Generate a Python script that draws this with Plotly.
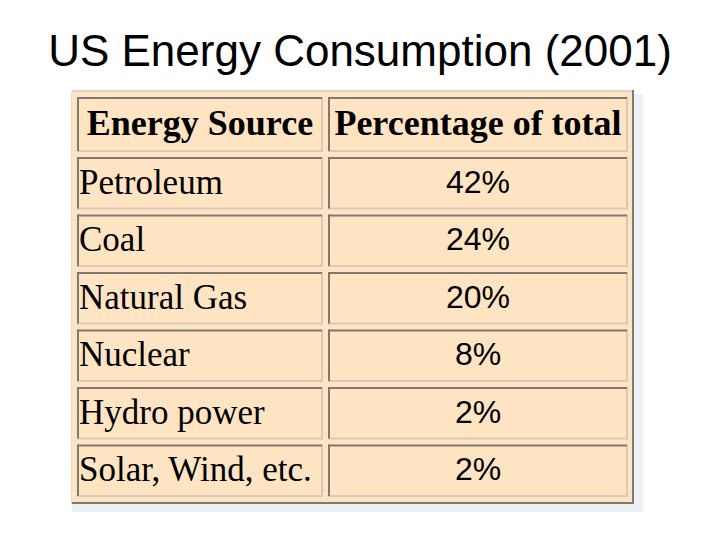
import plotly.graph_objects as go

# ---- data ----
TITLE = "US Energy Consumption (2001)"
HEADERS = ["Energy Source", "Percentage of total"]
SOURCES = ["Petroleum", "Coal", "Natural Gas", "Nuclear", "Hydro power", "Solar, Wind, etc."]
PERCENTAGES = [42, 24, 20, 8, 2, 2]

# ---- layout / style constants (pixel units on hidden axes) ----
TABLE_W, TABLE_H = 562, 412
PAD, SPACING = 5, 5
COL_W = [246, 300]
HEADER_H, ROW_H = 55, 52.5

BISQUE = "#FFE4C4"
DARK = "#7F7871"
LIGHT = "#D6C9BA"
OUTER_LIGHT = "#D9D4CF"
SHADOW = "#ECEFF3"

PAGE_OFFSET = 8  # default body margin of the html page
X_RANGE = [-2, 572]
Y_RANGE = [420, -4]
ML, MT = 70 - PAGE_OFFSET, 88 - PAGE_OFFSET
PW = X_RANGE[1] - X_RANGE[0]
PH = Y_RANGE[0] - Y_RANGE[1]


def col_x(j):
    x0 = PAD + sum(COL_W[:j]) + j * SPACING
    return x0, x0 + COL_W[j]


def row_y(r):
    if r == 0:
        return PAD, PAD + HEADER_H
    y0 = PAD + HEADER_H + SPACING + (r - 1) * (ROW_H + SPACING)
    return y0, y0 + ROW_H


shapes = []


def line(x0, y0, x1, y1, color, w=2):
    shapes.append(dict(type="line", xref="x", yref="y", x0=x0, y0=y0, x1=x1, y1=y1,
                       line=dict(color=color, width=w), layer="above"))


# shadow around table
shapes.append(dict(type="rect", xref="x", yref="y", x0=TABLE_W, y0=2, x1=TABLE_W + 9, y1=TABLE_H + 8,
                   fillcolor=SHADOW, line=dict(width=0), layer="below"))
shapes.append(dict(type="rect", xref="x", yref="y", x0=0, y0=TABLE_H, x1=TABLE_W + 9, y1=TABLE_H + 8,
                   fillcolor=SHADOW, line=dict(width=0), layer="below"))
# table background
shapes.append(dict(type="rect", xref="x", yref="y", x0=0, y0=0, x1=TABLE_W, y1=TABLE_H,
                   fillcolor=BISQUE, line=dict(width=0), layer="below"))
# outer outset border
line(0, -1, TABLE_W, -1, OUTER_LIGHT)
line(-0.5, 0, -0.5, TABLE_H, "#F3DCC4", 1)
line(TABLE_W - 1, -2, TABLE_W - 1, TABLE_H, DARK)
line(0, TABLE_H - 1, TABLE_W, TABLE_H - 1, DARK)

n_rows = len(SOURCES) + 1
for r in range(n_rows):
    y0, y1 = row_y(r)
    for j in range(len(COL_W)):
        x0, x1 = col_x(j)
        # inset bevel: light bottom/right, dark top/left
        line(x0, y1 - 1, x1, y1 - 1, LIGHT)
        line(x1 - 1, y0, x1 - 1, y1, LIGHT)
        line(x0, y0 + 1, x1 - 1, y0 + 1, DARK)
        line(x0 + 1, y0, x0 + 1, y1 - 1, DARK)

fig = go.Figure()

# header text
hx = [sum(col_x(j)) / 2 for j in range(len(HEADERS))]
hy = [sum(row_y(0)) / 2 + 1] * len(HEADERS)
fig.add_trace(go.Scatter(
    x=hx, y=hy, mode="text", text=HEADERS, textposition="middle center",
    textfont=dict(family="Liberation Serif", size=36, color="#000000", weight="bold"),
    hoverinfo="skip", showlegend=False))

# source names (left aligned)
name_x = [col_x(0)[0] + 2] * len(SOURCES)
row_centers = [sum(row_y(r + 1)) / 2 + 1.5 for r in range(len(SOURCES))]
fig.add_trace(go.Scatter(
    x=name_x, y=row_centers, mode="text", text=SOURCES, textposition="middle right",
    textfont=dict(family="Liberation Serif", size=35, color="#000000"),
    hoverinfo="skip", showlegend=False))

# percentages (centered)
pct_x = [sum(col_x(1)) / 2] * len(PERCENTAGES)
fig.add_trace(go.Scatter(
    x=pct_x, y=row_centers, mode="text", text=[f"{v}%" for v in PERCENTAGES],
    textposition="middle center",
    textfont=dict(family="Liberation Sans", size=32, color="#000000"),
    hoverinfo="skip", showlegend=False))

fig.update_layout(
    width=720, height=540,
    margin=dict(l=ML, r=720 - ML - PW, t=MT, b=540 - MT - PH, pad=0),
    paper_bgcolor="#FFFFFF", plot_bgcolor="#FFFFFF",
    title=dict(text=TITLE, x=(360 - PAGE_OFFSET) / 720, xref="container", xanchor="center",
               y=1 - (51 - PAGE_OFFSET) / 540, yref="container", yanchor="middle",
               font=dict(family="Liberation Sans", size=44, color="#000000")),
    xaxis=dict(range=X_RANGE, visible=False, fixedrange=True),
    yaxis=dict(range=Y_RANGE, visible=False, fixedrange=True),
    shapes=shapes,
)

fig.write_html("out.html")
